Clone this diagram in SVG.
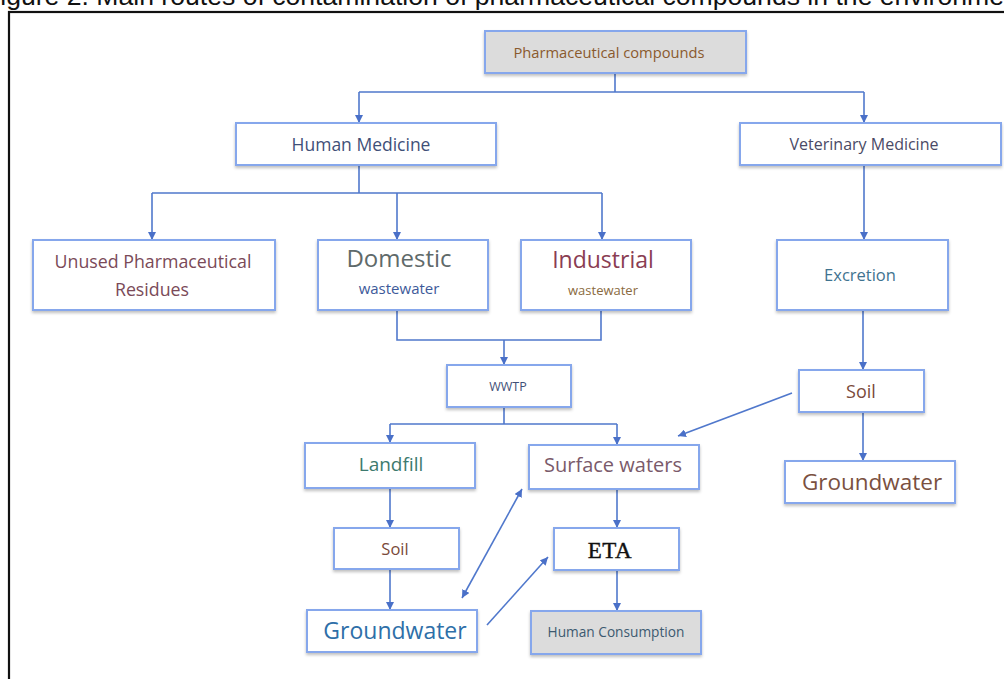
<svg xmlns="http://www.w3.org/2000/svg" width="1004" height="679" viewBox="0 0 1004 679">
<defs>
<style>
.box{fill:#ffffff;stroke:#86a7ec;stroke-width:2;filter:url(#sh)}
.gbox{fill:#dcdcdc;stroke:#86a7ec;stroke-width:2;filter:url(#sh)}
.t{font-family:"Open Sans","Noto Sans",sans-serif;text-anchor:middle}
.c{fill:none;stroke:#5078cc;stroke-width:1.6}
</style>
<filter id="sh" x="-10%" y="-20%" width="120%" height="150%">
<feDropShadow dx="0" dy="2" stdDeviation="1.5" flood-color="#000" flood-opacity="0.25"/>
</filter>
<marker id="ah" viewBox="0 0 10 10" refX="10" refY="5" markerWidth="8" markerHeight="8" orient="auto-start-reverse" markerUnits="userSpaceOnUse">
<path d="M0,0 L10,5 L0,10 z" fill="#4a70c8"/>
</marker>
</defs>
<rect x="0" y="0" width="1004" height="679" fill="#ffffff"/>
<text x="-16" y="4.5" font-family="'Liberation Sans',Arial,sans-serif" font-size="26.6" fill="#111">Figure 2. Main routes of contamination of pharmaceutical compounds in the environment.</text>
<rect x="9" y="12" width="1010" height="700" fill="none" stroke="#111" stroke-width="2.2"/>

<g id="connectors">
<path class="c" d="M615,73 V92 M359,92 H864" />
<path class="c" d="M359,92 V123" marker-end="url(#ah)"/>
<path class="c" d="M864,92 V123" marker-end="url(#ah)"/>
<path class="c" d="M359,165 V193 M152,193 H602"/>
<path class="c" d="M152,193 V240" marker-end="url(#ah)"/>
<path class="c" d="M397,193 V240" marker-end="url(#ah)"/>
<path class="c" d="M602,193 V240" marker-end="url(#ah)"/>
<path class="c" d="M864,165 V240" marker-end="url(#ah)"/>
<path class="c" d="M397,310 V340 H601 V310"/>
<path class="c" d="M504,340 V365" marker-end="url(#ah)"/>
<path class="c" d="M504,407 V424 M390,424 H617"/>
<path class="c" d="M390,424 V443" marker-end="url(#ah)"/>
<path class="c" d="M617,424 V445" marker-end="url(#ah)"/>
<path class="c" d="M863,310 V370" marker-end="url(#ah)"/>
<path class="c" d="M863,412 V461" marker-end="url(#ah)"/>
<path class="c" d="M792,393 L678,436" marker-end="url(#ah)"/>
<path class="c" d="M390,488 V528" marker-end="url(#ah)"/>
<path class="c" d="M390,569 V610" marker-end="url(#ah)"/>
<path class="c" d="M617,489 V528" marker-end="url(#ah)"/>
<path class="c" d="M617,570 V611" marker-end="url(#ah)"/>
<path class="c" d="M462,598 L522,489" marker-start="url(#ah)" marker-end="url(#ah)"/>
<path class="c" d="M487,625 L548,557" marker-end="url(#ah)"/>
</g>

<g id="pharma"><rect class="gbox" x="485" y="31" width="261" height="42"/><text class="t" x="609" y="58" font-size="14.7" fill="#8a5a2e">Pharmaceutical compounds</text></g>
<g id="human"><rect class="box" x="236" y="123" width="260" height="42"/><text class="t" x="361" y="151" font-size="17.5" fill="#3f5078">Human Medicine</text></g>
<g id="vet"><rect class="box" x="740" y="123" width="261" height="42"/><text class="t" x="864" y="150" font-size="16" fill="#4a4a66">Veterinary Medicine</text></g>
<g id="unused"><rect class="box" x="33" y="240" width="242" height="70"/><text class="t" x="153" y="268" font-size="17.8" fill="#7a4a58">Unused Pharmaceutical</text><text class="t" x="152" y="296" font-size="17.8" fill="#7a4a58">Residues</text></g>
<g id="domestic"><rect class="box" x="318" y="240" width="170" height="70"/><text class="t" x="399" y="267" font-size="24" fill="#5f6a6a">Domestic</text><text class="t" x="399" y="294" font-size="15" fill="#3d5a9a">wastewater</text></g>
<g id="industrial"><rect class="box" x="521" y="240" width="170" height="70"/><text class="t" x="603" y="268" font-size="23" fill="#8a3d52">Industrial</text><text class="t" x="603" y="295" font-size="13" fill="#8a6a40">wastewater</text></g>
<g id="excretion"><rect class="box" x="777" y="240" width="171" height="70"/><text class="t" x="860" y="281" font-size="16.5" fill="#3f7390">Excretion</text></g>
<g id="wwtp"><rect class="box" x="447" y="365" width="124" height="42"/><text class="t" x="508" y="391" font-size="12.5" fill="#3f5078">WWTP</text></g>
<g id="soil-r"><rect class="box" x="799" y="370" width="125" height="42"/><text class="t" x="861" y="398" font-size="18" fill="#7a4a3a">Soil</text></g>
<g id="landfill"><rect class="box" x="305" y="443" width="170" height="45"/><text class="t" x="391" y="471" font-size="19" fill="#3d7a6e">Landfill</text></g>
<g id="surface"><rect class="box" x="529" y="445" width="170" height="44"/><text class="t" x="613" y="472" font-size="20" fill="#7a5a6a">Surface waters</text></g>
<g id="gw-r"><rect class="box" x="785" y="461" width="170" height="42"/><text class="t" x="872" y="490" font-size="22.5" fill="#7a5040">Groundwater</text></g>
<g id="soil-l"><rect class="box" x="334" y="528" width="125" height="41"/><text class="t" x="395" y="555" font-size="16.5" fill="#7a4a3a">Soil</text></g>
<g id="eta"><rect class="box" x="554" y="528" width="125" height="42"/><text x="610" y="558" text-anchor="middle" font-family="'Liberation Serif','Times New Roman',serif" font-size="23" letter-spacing="0.5" fill="#111" stroke="#111" stroke-width="0.4">ETA</text></g>
<g id="gw-l"><rect class="box" x="307" y="610" width="170" height="42"/><text class="t" x="395" y="639" font-size="23" fill="#2e6fa8">Groundwater</text></g>
<g id="consumption"><rect class="gbox" x="531" y="611" width="170" height="43"/><text class="t" x="616" y="637" font-size="13.7" fill="#3d5a70">Human Consumption</text></g>
</svg>
